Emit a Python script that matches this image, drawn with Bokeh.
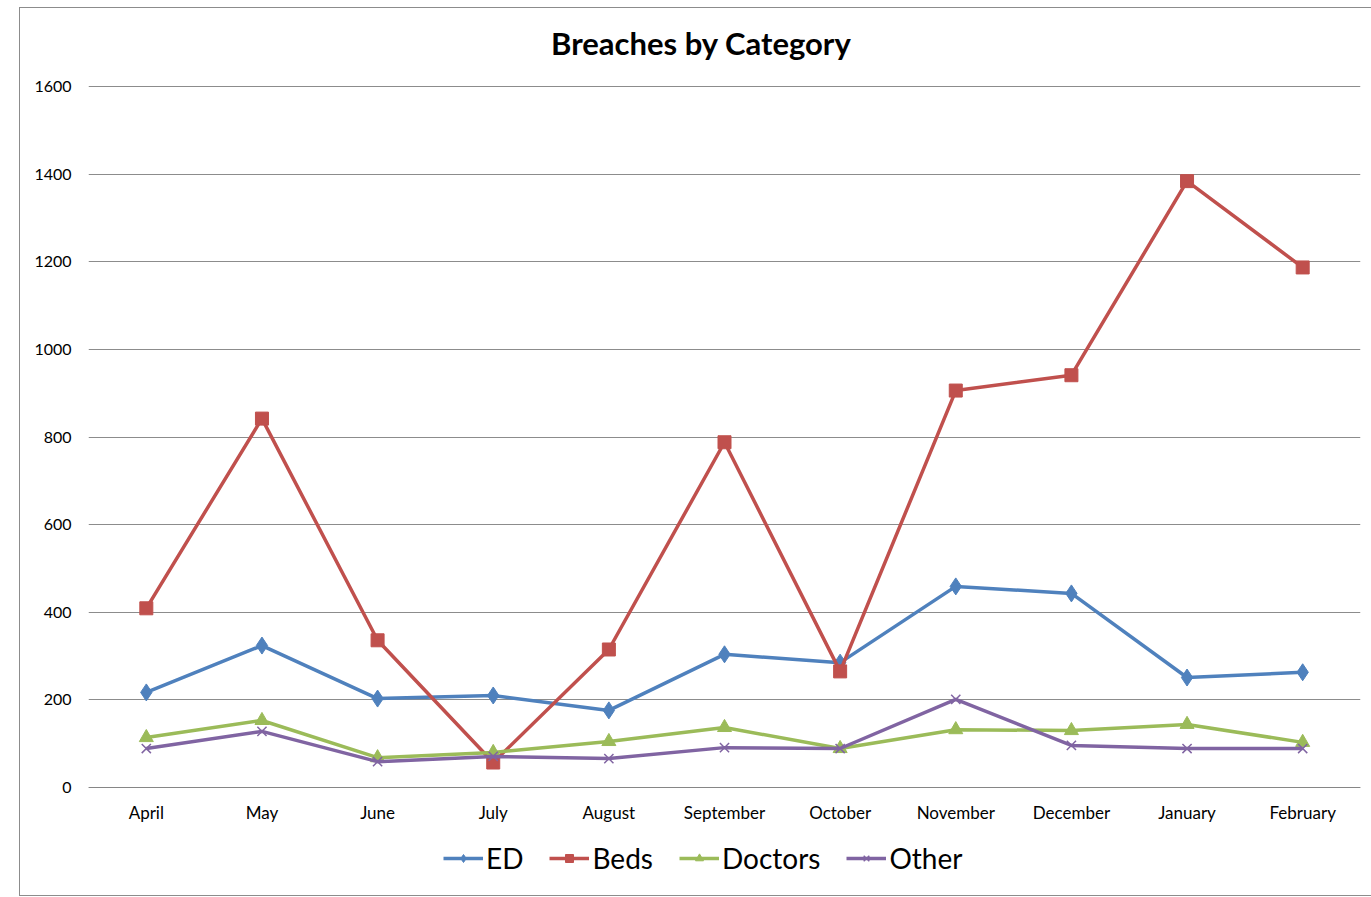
from bokeh.plotting import figure
from bokeh.models import Range1d, Legend, LegendItem, Label, FixedTicker
from bokeh.embed import file_html
from bokeh.resources import INLINE

months = ["April", "May", "June", "July", "August", "September", "October",
          "November", "December", "January", "February"]
ed = [217, 324, 203, 210, 176, 304, 285, 459, 443, 251, 263]
beds = [409, 842, 336, 57, 315, 788, 265, 906, 941, 1384, 1187]
doctors = [114, 153, 68, 80, 105, 137, 89, 132, 130, 144, 103]
other = [89, 128, 59, 71, 66, 91, 89, 201, 96, 89, 89]
y_ticks = [0, 200, 400, 600, 800, 1000, 1200, 1400, 1600]
title_text = "Breaches by Category"

FONT = "Lato"
# Excel-like layout: the frame spans the whole chart area so that title,
# category labels and legend can sit inside it; values 0..1600 map to the plot area.
PX_PER_UNIT = 701 / 1600
Y_MIN = -106 / PX_PER_UNIT
Y_MAX = 1600 + 76 / PX_PER_UNIT

p = figure(x_range=months, y_range=Range1d(Y_MIN, Y_MAX), width=1351, height=887,
           output_backend="svg", toolbar_location=None,
           min_border_left=68, min_border_right=11, min_border_top=2, min_border_bottom=2)
p.margin = (8, 0, 0, 20)
p.styles = {"outline": "1.5px solid #8c8c8c"}
p.outline_line_color = None
p.x_range.range_padding = 0

p.yaxis.ticker = FixedTicker(ticks=y_ticks)
p.yaxis.axis_line_color = None
p.yaxis.major_tick_line_color = None
p.yaxis.minor_tick_line_color = None
p.yaxis.major_label_standoff = 11
p.yaxis.major_label_text_font = FONT
p.yaxis.major_label_text_font_size = "16px"
p.yaxis.major_label_text_color = "black"

p.xaxis.fixed_location = 0
p.xaxis.axis_line_color = "#868686"
p.xaxis.major_tick_line_color = None
p.xaxis.minor_tick_line_color = None
p.xaxis.major_label_standoff = 8
p.xaxis.major_label_text_font = FONT
p.xaxis.major_label_text_font_size = "17px"
p.xaxis.major_label_text_color = "black"

p.xgrid.grid_line_color = None
p.ygrid.ticker = FixedTicker(ticks=y_ticks)
p.ygrid.grid_line_color = "#8c8c8c"
p.ygrid.grid_line_width = 1

series = [
    ("ED", ed, "#4F81BD", "diamond", 17),
    ("Beds", beds, "#C0504D", "square", 13),
    ("Doctors", doctors, "#9BBB59", "triangle", 14),
    ("Other", other, "#8064A2", "x", 13),
]
items = []
for name, vals, color, marker, size in series:
    l = p.line(months, vals, line_color=color, line_width=3.5)
    s = p.scatter(months, vals, marker=marker, size=size, fill_color=color,
                  line_color=color, line_width=1.5 if marker == "x" else 1)
    items.append(LegendItem(label=name, renderers=[l, s]))

title = Label(x=4.0, y=1600 + 44 / PX_PER_UNIT, text=title_text,
              text_font=FONT, text_font_size="31px", text_font_style="bold",
              text_color="black", text_align="left", text_baseline="middle")
p.add_layout(title)

legend = Legend(items=items, orientation="horizontal", location=(355, 18),
                label_text_font=FONT, label_text_font_size="28px",
                label_text_color="black", glyph_width=40, glyph_height=20,
                spacing=26, label_standoff=3, border_line_color=None,
                background_fill_alpha=0, margin=0, padding=0)
p.add_layout(legend, "center")

open("out.html", "w").write(file_html(p, INLINE))
